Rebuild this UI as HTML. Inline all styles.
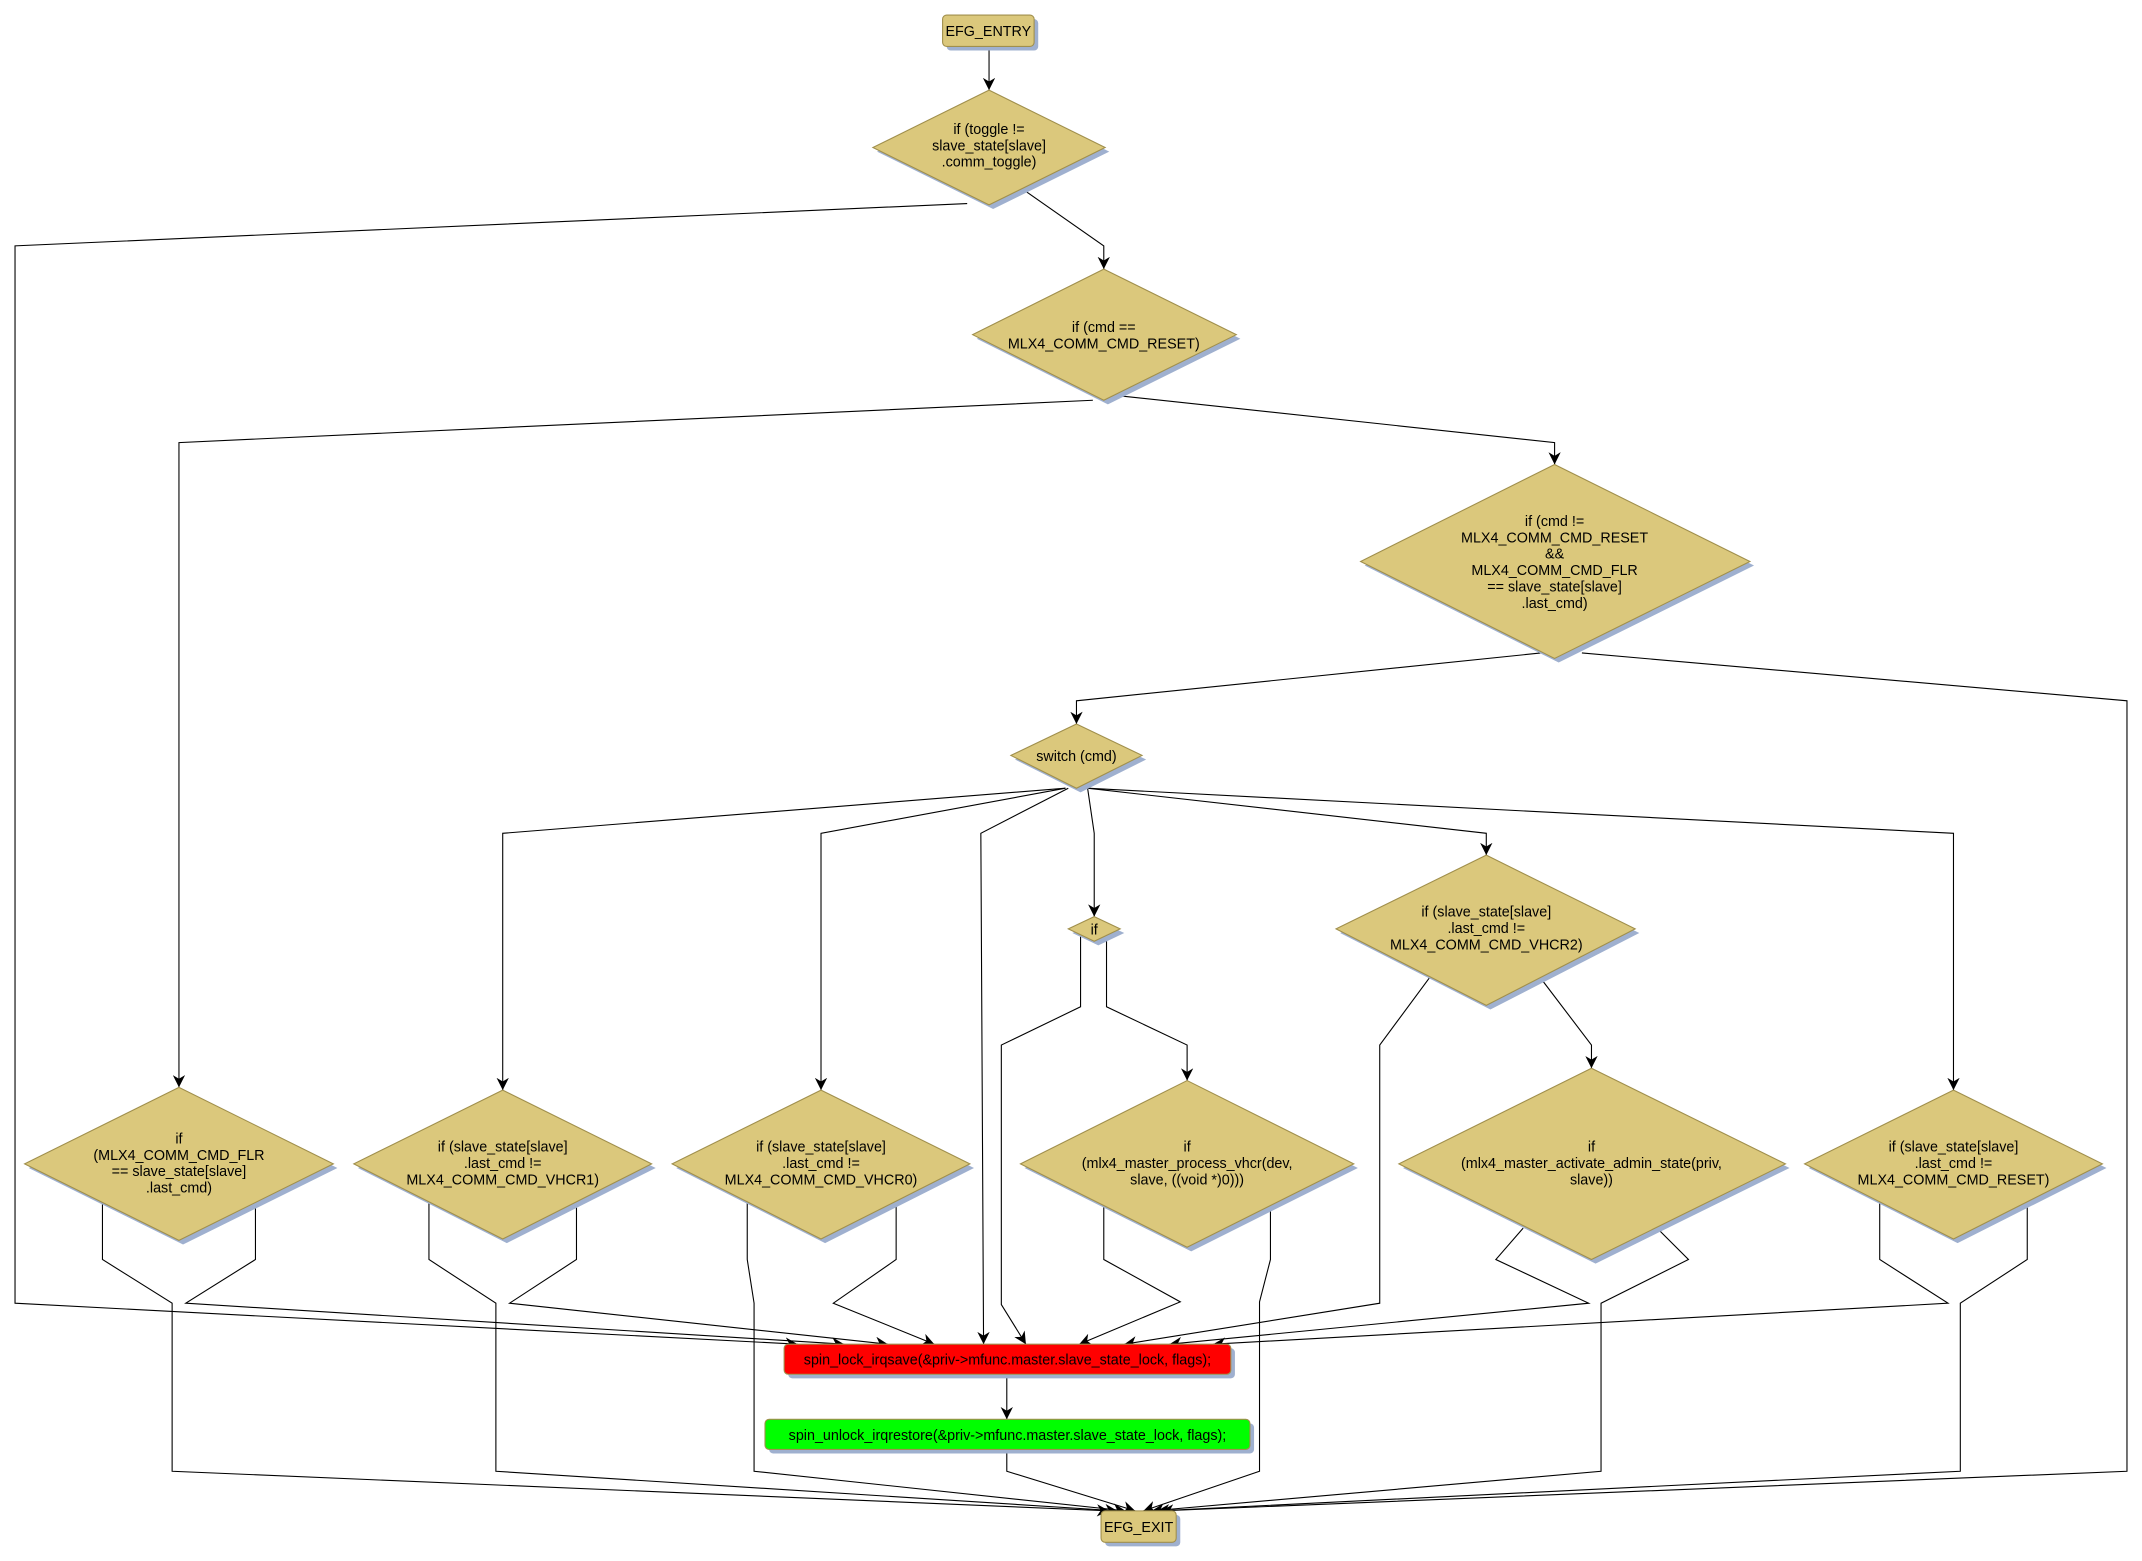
<!DOCTYPE html>
<html><head><meta charset="utf-8"><style>
html,body{margin:0;padding:0;background:#fff;}
svg{display:block;}
text{font-family:"Liberation Sans","DejaVu Sans",sans-serif;font-size:10.5px;fill:#000;text-anchor:middle;}
.d{fill:#dbc87c;stroke:#a08f4c;stroke-width:0.8;}
.s{fill:#9fb0cf;}
.e{fill:none;stroke:#000;stroke-width:0.8;}
</style></head><body>
<svg width="2142" height="1561" viewBox="0 0 1568 1142.7" preserveAspectRatio="none" xmlns="http://www.w3.org/2000/svg">
<defs>
<marker id="a" markerUnits="userSpaceOnUse" markerWidth="9" markerHeight="9" refX="10" refY="5" orient="auto" viewBox="0 0 10 10">
<path d="M0,0 L10,5 L0,10 L3,5 z" fill="#000"/>
</marker>
</defs>
<g>
<polyline class="e" marker-end="url(#a)" points="724,34 724,66"/>
<polyline class="e" marker-end="url(#a)" points="708,149 11,180 11,954 584,984"/>
<polyline class="e" marker-end="url(#a)" points="748,138 808,180 808,197"/>
<polyline class="e" marker-end="url(#a)" points="800,293 131,324 131,796"/>
<polyline class="e" marker-end="url(#a)" points="822,290 1138,324 1138,340"/>
<polyline class="e" marker-end="url(#a)" points="1128,478 788,513 788,530"/>
<polyline class="e" marker-end="url(#a)" points="1158,478 1557,513 1557,1077 850,1106"/>
<polyline class="e" marker-end="url(#a)" points="780,577 368,610 368,798"/>
<polyline class="e" marker-end="url(#a)" points="780,577 601,610 601,798"/>
<polyline class="e" marker-end="url(#a)" points="782,577 718,610 720,984"/>
<polyline class="e" marker-end="url(#a)" points="796,576 801,610 801,671"/>
<polyline class="e" marker-end="url(#a)" points="796,577 1088,610 1088,626"/>
<polyline class="e" marker-end="url(#a)" points="796,577 1430,610 1430,798"/>
<polyline class="e" marker-end="url(#a)" points="791,685 791,737 733,765 733,955 751,984"/>
<polyline class="e" marker-end="url(#a)" points="810,685 810,737 869,765 869,791"/>
<polyline class="e" marker-end="url(#a)" points="1047,715 1010,765 1010,954 823,984"/>
<polyline class="e" marker-end="url(#a)" points="1127,715 1165,765 1165,782"/>
<polyline class="e" marker-end="url(#a)" points="808,883 808,922 864,953 790,984"/>
<polyline class="e" marker-end="url(#a)" points="930,883 930,922 922,953 922,1077 837,1106"/>
<polyline class="e" marker-end="url(#a)" points="1115,899 1095,922 1163,954 856,984"/>
<polyline class="e" marker-end="url(#a)" points="1213,899 1236,922 1172,954 1172,1077 843,1106"/>
<polyline class="e" marker-end="url(#a)" points="1376,880 1376,922 1426,954 888,984"/>
<polyline class="e" marker-end="url(#a)" points="1484,880 1484,922 1435,954 1435,1077 847,1106"/>
<polyline class="e" marker-end="url(#a)" points="75,880 75,922 126,954 126,1077 812,1106"/>
<polyline class="e" marker-end="url(#a)" points="187,880 187,922 136,954 618,984"/>
<polyline class="e" marker-end="url(#a)" points="314,880 314,922 363,954 363,1077 818,1106"/>
<polyline class="e" marker-end="url(#a)" points="422,880 422,922 373,954 650,984"/>
<polyline class="e" marker-end="url(#a)" points="547,880 547,922 552,954 552,1077 824,1106"/>
<polyline class="e" marker-end="url(#a)" points="656,880 656,922 610,954 684,984"/>
<polyline class="e" marker-end="url(#a)" points="737,1006 737,1039"/>
<polyline class="e" marker-end="url(#a)" points="737,1061 737,1077 831,1106"/>

<rect class="s" x="693" y="14" width="67" height="23" rx="3"/>
<rect class="d" x="690" y="11" width="67" height="23" rx="3"/>
<text x="723.5" y="26.5">EFG_ENTRY</text>

<rect class="s" x="577" y="987" width="327" height="22" rx="3"/>
<rect x="574" y="984" width="327" height="22" rx="3" fill="#ff0000" stroke="#a08f4c" stroke-width="0.8"/>
<text x="737.5" y="999">spin_lock_irqsave(&amp;priv-&gt;mfunc.master.slave_state_lock, flags);</text>

<rect class="s" x="563" y="1042" width="355" height="22" rx="3"/>
<rect x="560" y="1039" width="355" height="22" rx="3" fill="#00ff00" stroke="#a08f4c" stroke-width="0.8"/>
<text x="737.5" y="1054">spin_unlock_irqrestore(&amp;priv-&gt;mfunc.master.slave_state_lock, flags);</text>

<rect class="s" x="809" y="1109" width="55" height="23" rx="3"/>
<rect class="d" x="806" y="1106" width="55" height="23" rx="3"/>
<text x="833.5" y="1121.5">EFG_EXIT</text>

<polygon class="s" points="727,69 812,111 727,153 642,111"/>
<polygon class="d" points="724,66 809,108 724,150 639,108"/>
<text x="724" y="98">if (toggle !=</text><text x="724" y="110">slave_state[slave]</text><text x="724" y="122">.comm_toggle)</text>

<polygon class="s" points="811,200 908,248 811,296 715,248"/>
<polygon class="d" points="808,197 905,245 808,293 712,245"/>
<text x="808" y="243">if (cmd ==</text><text x="808" y="255">MLX4_COMM_CMD_RESET)</text>

<polygon class="s" points="1141,343 1284,414 1141,485 999,414"/>
<polygon class="d" points="1138,340 1281,411 1138,482 996,411"/>
<text x="1138" y="385">if (cmd !=</text><text x="1138" y="397">MLX4_COMM_CMD_RESET</text><text x="1138" y="409">&amp;&amp;</text><text x="1138" y="421">MLX4_COMM_CMD_FLR</text><text x="1138" y="433">== slave_state[slave]</text><text x="1138" y="445">.last_cmd)</text>

<polygon class="s" points="791,533 839,556 791,580 743,556"/>
<polygon class="d" points="788,530 836,553 788,577 740,553"/>
<text x="788" y="557">switch (cmd)</text>

<polygon class="s" points="804,674 823,683 804,692 785,683"/>
<polygon class="d" points="801,671 820,680 801,689 782,680"/>
<text x="801" y="684">if</text>

<polygon class="s" points="1091,629 1200,683 1091,739 981,683"/>
<polygon class="d" points="1088,626 1197,680 1088,736 978,680"/>
<text x="1088" y="671">if (slave_state[slave]</text><text x="1088" y="683">.last_cmd !=</text><text x="1088" y="695">MLX4_COMM_CMD_VHCR2)</text>

<polygon class="s" points="134,799 247,855 134,911 21,855"/>
<polygon class="d" points="131,796 244,852 131,908 18,852"/>
<text x="131" y="837">if</text><text x="131" y="849">(MLX4_COMM_CMD_FLR</text><text x="131" y="861">== slave_state[slave]</text><text x="131" y="873">.last_cmd)</text>

<polygon class="s" points="371,801 480,855 371,910 262,855"/>
<polygon class="d" points="368,798 477,852 368,907 259,852"/>
<text x="368" y="843">if (slave_state[slave]</text><text x="368" y="855">.last_cmd !=</text><text x="368" y="867">MLX4_COMM_CMD_VHCR1)</text>

<polygon class="s" points="604,801 713,855 604,910 495,855"/>
<polygon class="d" points="601,798 710,852 601,907 492,852"/>
<text x="601" y="843">if (slave_state[slave]</text><text x="601" y="855">.last_cmd !=</text><text x="601" y="867">MLX4_COMM_CMD_VHCR0)</text>

<polygon class="s" points="872,794 994,855 872,916 750,855"/>
<polygon class="d" points="869,791 991,852 869,913 747,852"/>
<text x="869" y="843">if</text><text x="869" y="855">(mlx4_master_process_vhcr(dev,</text><text x="869" y="867">slave, ((void *)0)))</text>

<polygon class="s" points="1168,785 1310,855 1168,925 1027,855"/>
<polygon class="d" points="1165,782 1307,852 1165,922 1024,852"/>
<text x="1165" y="843">if</text><text x="1165" y="855">(mlx4_master_activate_admin_state(priv,</text><text x="1165" y="867">slave))</text>

<polygon class="s" points="1433,801 1542,855 1433,910 1324,855"/>
<polygon class="d" points="1430,798 1539,852 1430,907 1321,852"/>
<text x="1430" y="843">if (slave_state[slave]</text><text x="1430" y="855">.last_cmd !=</text><text x="1430" y="867">MLX4_COMM_CMD_RESET)</text>
</g>
</svg>
</body></html>
